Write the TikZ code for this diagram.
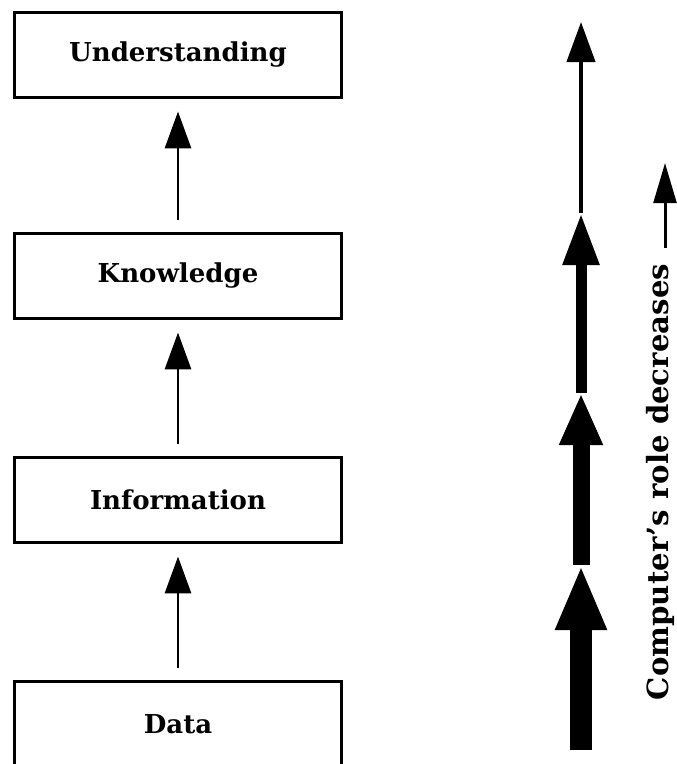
\documentclass[tikz,border=0pt]{standalone}
\usepackage{fontspec}
\setmainfont{DejaVu Serif}
\usetikzlibrary{arrows.meta}

\begin{document}
\begin{tikzpicture}[x=0.01cm, y=-0.01cm,
    level/.style={draw, line width=0.85pt, text centered, minimum width=3.27cm,
      minimum height=0.84cm, font=\fontsize{7.4}{9}\selectfont\bfseries},
    up/.style={line width=0.85pt, -{Triangle[length=10.5pt, width=7.4pt]},
      shorten <=12pt*0.2845, shorten >=13pt*0.2845}]
    \clip (0,0) rectangle (677,764);

    \node[level] (understanding) at (178,55) {Understanding};
    \node[level] (knowledge) at (178,276) {Knowledge};
    \node[level] (information) at (178,500) {Information};
    \node[level] (data) at (178,724) {Data};

    \draw[up] (data) -- (information);
    \draw[up] (information) -- (knowledge);
    \draw[up] (knowledge) -- (understanding);

    % tapering arrow on the right
    \coordinate (r0) at (581,750);
    \coordinate (r1) at (581,565);
    \coordinate (r2) at (581,393);
    \coordinate (r3) at (581,213);
    \coordinate (r4) at (581,22);
    \draw[line width=6.26pt, -{Triangle[length=18.5pt, width=13.4pt]}] (r0) -- (r1);
    \draw[line width=4.84pt, -{Triangle[length=14.8pt, width=11.4pt]}] (r1) -- (r2);
    \draw[line width=3.13pt, -{Triangle[length=14.8pt, width=9.7pt]}] (r2) -- (r3);
    \draw[line width=1.14pt, -{Triangle[length=11.4pt, width=8pt]}] (r3) -- (r4);

    \coordinate (s0) at (665,248);
    \coordinate (s1) at (665,163);
    \draw[line width=0.85pt, -{Triangle[length=11.4pt, width=6.5pt]}] (s0) -- (s1);
    \node[rotate=90, font=\fontsize{8.3}{10}\selectfont\bfseries] (role) at (660,482)
      {Computer's role decreases};
  \end{tikzpicture}
\end{document}
